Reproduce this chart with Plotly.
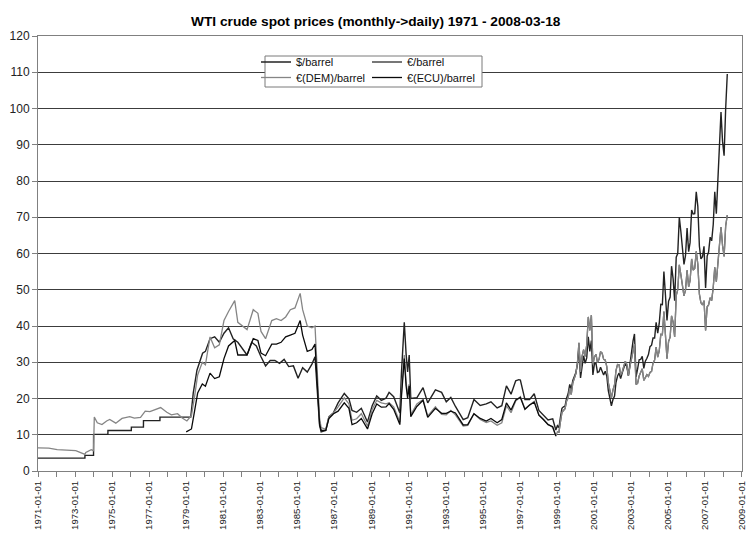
import plotly.graph_objects as go

title_text = "WTI crude spot prices (monthly->daily) 1971 - 2008-03-18"
series_names = ["$/barrel", "€/barrel", "€(DEM)/barrel", "€(ECU)/barrel"]

# ---- $/barrel 1971-1998 ----
usd_dates_early = [
    "1971-01-01", "1973-07-14", "1973-07-15", "1973-12-31", "1974-01-01", "1974-10-10",
    "1974-10-11", "1976-01-15", "1976-01-16", "1976-09-10", "1976-09-11", "1977-08-01",
    "1977-08-02", "1979-04-01", "1979-05-20", "1979-08-01", "1979-11-20",
    "1980-01-15", "1980-04-15", "1980-07-15", "1980-10-15", "1981-01-15", "1981-04-15",
    "1981-07-15", "1981-10-15", "1982-01-15", "1982-04-15", "1982-07-15", "1982-10-15",
    "1983-01-15", "1983-04-15", "1983-07-15", "1983-10-15", "1984-01-15", "1984-04-15",
    "1984-07-15", "1984-10-15", "1985-01-15", "1985-04-15", "1985-07-15", "1985-10-15",
    "1985-12-15", "1986-01-20", "1986-03-15", "1986-04-15", "1986-07-15", "1986-09-15",
    "1986-12-15", "1987-03-15", "1987-07-15", "1987-10-15", "1987-12-15", "1988-03-15",
    "1988-06-15", "1988-10-15", "1989-01-15", "1989-04-15", "1989-07-15", "1989-10-15",
    "1989-12-15", "1990-03-15", "1990-06-15", "1990-07-15", "1990-08-15", "1990-10-10",
    "1990-11-15", "1990-12-15", "1991-01-15", "1991-02-15", "1991-06-15", "1991-10-15",
    "1992-01-15", "1992-06-15", "1992-10-15", "1993-01-15", "1993-04-15", "1993-07-15",
    "1993-12-15", "1994-03-15", "1994-07-15", "1994-11-15", "1995-03-15", "1995-06-15",
    "1995-10-15", "1996-01-15", "1996-04-15", "1996-07-15", "1996-10-15", "1996-12-15",
    "1997-01-15", "1997-04-15", "1997-07-15", "1997-10-15", "1998-01-15", "1998-04-15",
    "1998-07-15", "1998-10-15", "1998-12-15",
]
usd_values_early = [
    3.56, 3.56, 4.31, 4.31, 10.11, 10.11,
    11.16, 11.16, 12.1, 12.1, 13.9, 13.9,
    14.85, 14.85, 21.5, 27.8, 32.5,
    33.0, 36.5, 37.0, 35.5, 38.0, 39.5,
    36.5, 35.5, 33.8, 32.0, 35.5, 34.5,
    31.5, 29.0, 30.5, 30.5, 29.7, 30.8,
    28.8, 29.0, 25.6, 28.5, 27.3, 29.5,
    31.5, 22.9, 12.6, 10.8, 11.2, 14.9,
    16.1, 18.8, 21.4, 19.9, 16.7, 16.2,
    17.3, 13.5, 18.0, 20.7, 19.5, 20.1,
    21.7, 20.5, 17.0, 16.0, 27.0, 41.0,
    32.3, 27.3, 32.0, 20.0, 20.2, 23.0,
    18.8, 22.4, 21.7, 19.1, 20.3, 17.8,
    14.2, 14.7, 19.7, 18.1, 18.5, 19.1,
    17.4, 18.0, 23.5, 21.2, 24.9, 25.2,
    25.1, 19.7, 19.7, 21.3, 16.7, 15.4,
    14.1, 14.4, 11.3,
]

# ---- monthly dates 1999-01 .. 2008-03-18 (shared by $ and € after the euro launch) ----
dates_1999_2008 = (
    [f"{y}-{m:02d}-15" for y in range(1999, 2008) for m in range(1, 13)]
    + ["2008-01-15", "2008-02-15", "2008-03-18"]
)
usd_values_late = [
    12.5, 12.0, 14.7, 17.3, 17.7, 17.9, 20.1, 21.3, 23.9, 22.6, 25.0, 26.1,
    27.2, 29.4, 34.0, 25.7, 28.8, 31.8, 29.7, 31.2, 37.0, 33.0, 36.0, 26.5,
    29.6, 29.6, 27.2, 27.4, 28.6, 27.6, 26.5, 27.5, 26.2, 22.2, 19.6, 18.0,
    19.7, 20.7, 24.4, 26.2, 27.0, 25.5, 27.0, 28.4, 29.7, 28.8, 26.3, 29.4,
    32.9, 35.9, 37.8, 26.0, 28.1, 30.7, 30.8, 31.6, 28.3, 30.3, 31.1, 32.1,
    34.3, 34.7, 36.7, 36.7, 41.0, 38.0, 40.7, 46.0, 45.9, 55.0, 48.5, 41.5,
    46.8, 48.0, 56.5, 53.0, 47.0, 59.0, 60.0, 70.0, 66.0, 61.0, 57.0, 59.4,
    67.0, 60.5, 63.0, 72.0, 70.9, 71.0, 77.0, 73.0, 62.0, 58.5, 59.1, 62.0,
    50.5, 59.3, 60.4, 64.5, 63.5, 68.0, 77.0, 71.0, 80.0, 88.0, 99.0, 91.0,
    87.0, 100.0, 109.5,
]
eur_values = [
    10.8, 10.7, 13.5, 16.2, 16.7, 17.2, 19.3, 20.1, 22.8, 21.1, 24.3, 25.8,
    26.9, 30.0, 35.4, 27.3, 31.6, 33.5, 31.6, 34.7, 42.5, 38.8, 43.0, 29.4,
    31.5, 32.2, 29.9, 30.8, 32.9, 32.5, 30.8, 30.6, 28.8, 24.4, 22.0, 20.2,
    22.4, 23.8, 27.7, 29.4, 29.3, 26.6, 27.3, 29.0, 30.3, 29.4, 26.3, 28.8,
    31.0, 33.2, 35.0, 23.9, 24.2, 26.2, 27.0, 28.2, 25.0, 25.9, 26.6, 26.1,
    27.2, 27.5, 29.8, 30.6, 34.2, 31.4, 33.1, 37.7, 37.6, 44.0, 37.3, 31.0,
    35.7, 36.9, 42.8, 41.1, 37.0, 48.4, 50.0, 56.9, 54.1, 50.8, 48.3, 49.9,
    55.4, 50.8, 52.5, 58.5, 55.4, 55.9, 60.6, 57.0, 48.8, 46.4, 45.8, 47.0,
    38.8, 45.3, 45.8, 47.8, 47.0, 50.7, 56.2, 52.2, 57.6, 62.0, 67.3, 62.3,
    59.2, 67.6, 70.6,
]

# ---- €(DEM)/barrel before 1999 (identical to € afterwards) ----
dem_dates = [
    "1971-01-01", "1971-08-01", "1972-01-15", "1972-07-15", "1973-01-15", "1973-03-15",
    "1973-07-14", "1973-08-01", "1973-11-15", "1973-12-31", "1974-01-15", "1974-03-15",
    "1974-06-15", "1974-09-15", "1974-11-15", "1975-03-15", "1975-07-15", "1975-12-15",
    "1976-03-15", "1976-07-15", "1976-10-15", "1977-01-15", "1977-04-15", "1977-08-15",
    "1977-12-15", "1978-03-15", "1978-07-15", "1978-10-15", "1979-01-15", "1979-04-15",
    "1979-06-15", "1979-08-15", "1979-11-15", "1980-01-15", "1980-04-15", "1980-07-15",
    "1980-10-15", "1981-01-15", "1981-04-15", "1981-08-15", "1981-10-15", "1982-01-15",
    "1982-04-15", "1982-08-15", "1982-11-15", "1983-01-15", "1983-04-15", "1983-08-15",
    "1983-11-15", "1984-02-15", "1984-05-15", "1984-08-15", "1984-11-15", "1985-02-25",
    "1985-04-15", "1985-07-15", "1985-10-15", "1985-12-15", "1986-01-20", "1986-03-15",
    "1986-04-15", "1986-07-15", "1986-09-15", "1986-12-15", "1987-03-15", "1987-07-15",
    "1987-10-15", "1987-12-15", "1988-03-15", "1988-06-15", "1988-10-15", "1989-01-15",
    "1989-04-15", "1989-07-15", "1989-10-15", "1989-12-15", "1990-03-15", "1990-06-15",
    "1990-07-15", "1990-08-15", "1990-10-10", "1990-11-15", "1990-12-15", "1991-01-15",
    "1991-02-15", "1991-06-15", "1991-10-15", "1992-01-15", "1992-06-15", "1992-10-15",
    "1993-01-15", "1993-04-15", "1993-07-15", "1993-12-15", "1994-03-15", "1994-07-15",
    "1994-11-15", "1995-03-15", "1995-06-15", "1995-10-15", "1996-01-15", "1996-04-15",
    "1996-07-15", "1996-10-15", "1996-12-15", "1997-01-15", "1997-04-15", "1997-07-15",
    "1997-10-15", "1998-01-15", "1998-04-15", "1998-07-15", "1998-10-15", "1998-12-15",
]
dem_values = [
    6.4, 6.3, 5.9, 5.8, 5.6, 5.3,
    4.6, 5.1, 5.9, 5.6, 14.9, 13.3,
    12.8, 13.8, 14.2, 13.2, 14.5, 15.0,
    14.6, 14.8, 16.5, 16.4, 16.9, 17.5,
    16.2, 15.5, 15.8, 14.6, 13.8, 15.3,
    20.5, 26.5, 30.0, 29.3, 37.0, 34.0,
    34.8, 41.5, 44.0, 47.0, 41.0, 40.0,
    39.0, 44.5, 43.5, 38.5, 36.5, 41.5,
    42.0, 41.5, 42.5, 44.5, 45.0, 49.0,
    44.5, 40.0, 39.5, 40.0, 28.5, 14.5,
    12.0, 11.5, 15.0, 16.0, 17.7, 20.2,
    18.5, 14.0, 14.4, 15.8, 12.4, 17.0,
    19.5, 18.8, 18.5, 18.8, 17.7, 14.8,
    13.5, 21.5, 32.0, 24.5, 21.0, 24.0,
    15.5, 18.5, 19.7, 15.2, 17.7, 15.6,
    15.5, 16.7, 15.5, 12.4, 12.6, 15.8,
    14.2, 13.4, 13.8, 12.6, 13.3, 18.0,
    16.1, 19.3, 20.0, 20.5, 17.2, 18.2,
    19.2, 15.5, 14.2, 12.9, 12.0, 9.6,
]

# ---- €(ECU)/barrel 1979-1998 ----
ecu_dates = [
    "1979-01-01", "1979-04-15", "1979-06-15", "1979-08-15", "1979-11-15", "1980-01-15",
    "1980-04-15", "1980-07-15", "1980-10-15", "1981-01-15", "1981-04-15", "1981-08-15",
    "1981-10-15", "1982-01-15", "1982-04-15", "1982-08-15", "1982-11-15", "1983-01-15",
    "1983-04-15", "1983-08-15", "1983-11-15", "1984-02-15", "1984-05-15", "1984-08-15",
    "1984-11-15", "1985-02-25", "1985-04-15", "1985-07-15", "1985-10-15", "1985-12-15",
    "1986-01-20", "1986-03-15", "1986-04-15", "1986-07-15", "1986-09-15", "1986-12-15",
    "1987-03-15", "1987-07-15", "1987-10-15", "1987-12-15", "1988-03-15", "1988-06-15",
    "1988-10-15", "1989-01-15", "1989-04-15", "1989-07-15", "1989-10-15", "1989-12-15",
    "1990-03-15", "1990-06-15", "1990-07-15", "1990-08-15", "1990-10-10", "1990-11-15",
    "1990-12-15", "1991-01-15", "1991-02-15", "1991-06-15", "1991-10-15", "1992-01-15",
    "1992-06-15", "1992-10-15", "1993-01-15", "1993-04-15", "1993-07-15", "1993-12-15",
    "1994-03-15", "1994-07-15", "1994-11-15", "1995-03-15", "1995-06-15", "1995-10-15",
    "1996-01-15", "1996-04-15", "1996-07-15", "1996-10-15", "1996-12-15", "1997-01-15",
    "1997-04-15", "1997-07-15", "1997-10-15", "1998-01-15", "1998-04-15", "1998-07-15",
    "1998-10-15", "1998-12-15",
]
ecu_values = [
    10.8, 11.6, 16.5, 21.5, 24.0, 23.4,
    27.0, 25.5, 26.0, 31.0, 34.5, 36.0,
    32.0, 32.0, 32.0, 36.5, 36.0, 32.5,
    31.8, 35.0, 35.0, 35.5, 37.0, 37.5,
    38.0, 41.5, 37.5, 33.0, 33.5, 35.0,
    24.5, 13.0, 11.2, 11.2, 14.5, 15.8,
    16.5, 18.8, 17.3, 12.8, 13.3, 14.5,
    11.6, 15.8, 18.5, 17.6, 17.7, 18.6,
    17.0, 14.0, 12.8, 20.5, 31.0, 23.5,
    20.0, 23.5, 15.0, 17.8, 19.5, 14.8,
    17.3, 15.9, 15.9, 16.5, 16.0, 12.7,
    12.8, 15.8, 14.5, 13.8, 14.5, 13.3,
    14.2, 18.8, 16.8, 19.6, 20.2, 20.3,
    17.0, 18.2, 19.0, 15.4, 14.2, 12.8,
    12.2, 9.7,
]

y_tick_values = list(range(0, 121, 10))
x_start = "1971-01-01"
x_end = "2009-01-02"

FONT = "Liberation Sans, Arial, sans-serif"

fig = go.Figure()
series = [
    (series_names[0], usd_dates_early + dates_1999_2008, usd_values_early + usd_values_late,
     "#222222", 1.4, "legend"),
    (series_names[1], dates_1999_2008, eur_values, "#4a4a4a", 1.3, "legend2"),
    (series_names[2], dem_dates + dates_1999_2008, dem_values + eur_values, "#858585", 1.3, "legend3"),
    (series_names[3], ecu_dates, ecu_values, "#0a0a0a", 1.3, "legend4"),
]
for name, xs, ys, color, lw, lg in series:
    fig.add_trace(go.Scatter(
        x=xs, y=ys, name=name, mode="lines",
        line=dict(color=color, width=lw),
        legend=lg,
    ))

# plot area geometry (px)
L, R, T, B = 38, 5, 36, 64
W, H = 747, 535
pw, ph = W - L - R, H - T - B

def px_x(p):
    return (p - L) / pw

def px_y(p):
    return (H - B - p) / ph

leg_font = dict(family=FONT, size=11, color="#111111")
leg_common = dict(bgcolor="rgba(0,0,0,0)", borderwidth=0, font=leg_font,
                  xanchor="left", yanchor="middle", itemwidth=30)
col1, col2 = 256, 367
row1, row2 = 62, 77.5

fig.update_layout(
    width=W, height=H,
    margin=dict(l=L, r=R, t=T, b=B, autoexpand=False),
    paper_bgcolor="white", plot_bgcolor="white",
    font=dict(family=FONT, color="#222222"),
    title=dict(text=title_text, x=0.503, xanchor="center", y=1 - 21 / H, yanchor="middle",
               yref="container", xref="container",
               font=dict(family=FONT, size=13.7, color="#000000", weight="bold")),
    showlegend=True,
    legend=dict(x=px_x(col1), y=px_y(row1), **leg_common),
    legend2=dict(x=px_x(col2), y=px_y(row1), **leg_common),
    legend3=dict(x=px_x(col1), y=px_y(row2), **leg_common),
    legend4=dict(x=px_x(col2), y=px_y(row2), **leg_common),
    shapes=[dict(type="rect", xref="paper", yref="paper",
                 x0=px_x(265), x1=px_x(482), y0=px_y(87), y1=px_y(56),
                 line=dict(color="#7a7a7a", width=1), fillcolor="white", layer="above")],
)

fig.update_xaxes(
    type="date", range=[x_start, x_end], automargin=False,
    tick0=x_start, dtick="M24", tickformat="%Y-%m-%d", tickangle=-90,
    tickfont=dict(family=FONT, size=9.6, color="#222222"),
    ticklabeloverflow="allow",
    ticks="outside", ticklen=5, tickcolor="#808080",
    minor=dict(dtick="M12", tick0=x_start, ticks="outside", ticklen=5, tickcolor="#808080", showgrid=False),
    showgrid=False, showline=True, linecolor="#808080", linewidth=1, mirror=True,
    zeroline=False,
)
fig.update_yaxes(
    range=[0, 120], tickvals=y_tick_values, automargin=False,
    tickfont=dict(family=FONT, size=12, color="#222222"),
    ticks="outside", ticklen=5, tickcolor="#808080",
    showgrid=True, gridcolor="#3c3c3c", gridwidth=1,
    showline=True, linecolor="#808080", linewidth=1, mirror=True,
    zeroline=False,
)

fig.write_html("out.html", config={"displayModeBar": False},
               post_script="document.body.style.margin='0';")
